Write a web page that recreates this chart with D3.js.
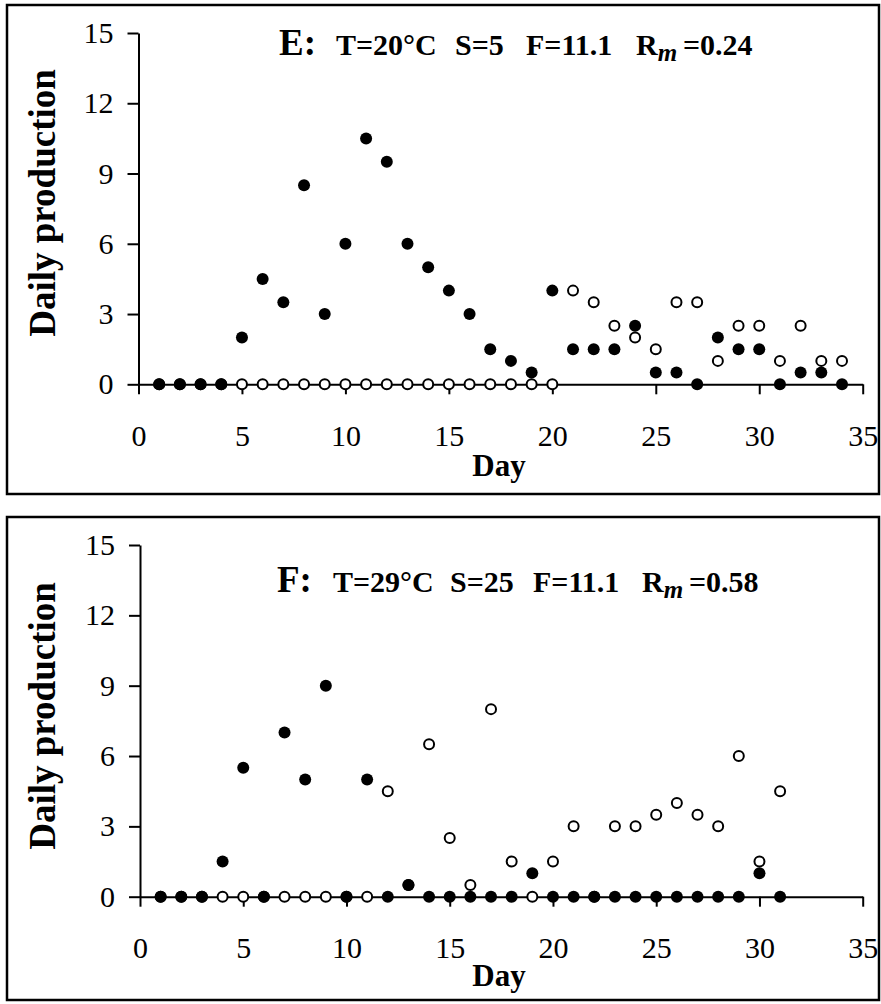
<!DOCTYPE html>
<html>
<head>
<meta charset="utf-8">
<script src="https://cdn.jsdelivr.net/npm/d3@7"></script>
<style>
  body { margin: 0; background: #fff; }
  svg text { font-family: 'Liberation Serif', 'DejaVu Serif', serif; fill: #000; }
</style>
</head>
<body>
<svg id="viz"></svg>
<script>
// Panel E: days 1-34
const daysE = d3.range(1, 35);
const eFilled = [0, 0, 0, 0, 2, 4.5, 3.5, 8.5, 3, 6, 10.5, 9.5, 6, 5, 4, 3, 1.5, 1, 0.5, 4,
                 1.5, 1.5, 1.5, 2.5, 0.5, 0.5, 0, 2, 1.5, 1.5, 0, 0.5, 0.5, 0];
const eOpen = [0, 0, 0, 0, 0, 0, 0, 0, 0, 0, 0, 0, 0, 0, 0, 0, 0, 0, 0, 0,
               4, 3.5, 2.5, 2, 1.5, 3.5, 3.5, 1, 2.5, 2.5, 1, 2.5, 1, 1];

// Panel F: days 1-31
const daysF = d3.range(1, 32);
const fFilled = [0, 0, 0, 1.5, 5.5, 0, 7, 5, 9, 0, 5, 0, 0.5, 0, 0, 0, 0, 0, 1, 0,
                 0, 0, 0, 0, 0, 0, 0, 0, 0, 1, 0];
const fOpen = [0, 0, 0, 0, 0, 0, 0, 0, 0, 0, 0, 4.5, 0.5, 6.5, 2.5, 0.5, 8, 1.5, 0, 1.5,
               3, 0, 3, 3, 3.5, 4, 3.5, 3, 6, 1.5, 4.5];

// title pieces
const eTitle = ["E:", "T=20\u00B0C", "S=5", "F=11.1", "R", "=0.24"];
const fTitle = ["F:", "T=29\u00B0C", "S=25", "F=11.1", "R", "=0.58"];

const xTicks = [0, 5, 10, 15, 20, 25, 30, 35];
const yTicks = [0, 3, 6, 9, 12, 15];

const width = 881;
const height = 1004;
const serif = "'Liberation Serif', 'DejaVu Serif', serif";

const svg = d3.select("svg#viz")
	.attr("width", width)
	.attr("height", height);

let translate = function(x, y) {
	return 'translate(' + x + ',' + y + ')';
}

// layout for the two boxes
const panels = [
	{
		title: eTitle, titleXs: [279, 336, 455, 526, 636, 683],
		days: daysE, filled: eFilled, open: eOpen,
		box: [7, 5, 879, 494],
		x0: 138.5, x1: 862.7, y0: 384.3, y1: 33,
		titleY: 55, labelY: 203, dayY: 476
	},
	{
		title: fTitle, titleXs: [277, 333, 450, 533, 642, 689],
		days: daysF, filled: fFilled, open: fOpen,
		box: [7, 517, 879, 1000],
		x0: 140, x1: 862.7, y0: 896.7, y1: 545,
		titleY: 592, labelY: 716, dayY: 986
	}
];

panels.forEach(drawPanel);

function drawPanel(p) {
	const g = svg.append("g").attr("font-family", serif);

	// outer frame
	g.append("rect")
		.attr("x", p.box[0]).attr("y", p.box[1])
		.attr("width", p.box[2] - p.box[0]).attr("height", p.box[3] - p.box[1])
		.attr("fill", "none").attr("stroke", "#000").attr("stroke-width", 2.5);

	const x = d3.scaleLinear().domain([0, 35]).range([p.x0, p.x1]);
	const y = d3.scaleLinear().domain([0, 15]).range([p.y0, p.y1]);

	// axes
	const xAxis = g.append("g")
		.attr("transform", translate(0, p.y0))
		.call(d3.axisBottom(x).tickValues(xTicks).tickSize(10).tickSizeOuter(0).tickPadding(30));
	const yAxis = g.append("g")
		.attr("transform", translate(p.x0, 0))
		.call(d3.axisLeft(y).tickValues(yTicks).tickSize(11).tickSizeOuter(0).tickPadding(14));

	[xAxis, yAxis].forEach(a => {
		a.attr("font-family", serif).attr("font-size", 30);
		a.selectAll("path, line").attr("stroke", "#000").attr("stroke-width", 2);
		a.selectAll("text").attr("fill", "#000");
	});

	// open markers
	g.append("g").selectAll("circle")
		.data(p.days.map((d, i) => ({day: d, v: p.open[i]})))
		.join("circle")
		.attr("cx", d => x(d.day))
		.attr("cy", d => y(d.v))
		.attr("r", 5)
		.attr("fill", "#fff")
		.attr("stroke", "#000")
		.attr("stroke-width", 2);

	// filled markers on top
	g.append("g").selectAll("circle")
		.data(p.days.map((d, i) => ({day: d, v: p.filled[i]})))
		.join("circle")
		.attr("cx", d => x(d.day))
		.attr("cy", d => y(d.v))
		.attr("r", 6)
		.attr("fill", "#000");

	// title, each piece placed on its own
	const t = g.append("text")
		.attr("y", p.titleY)
		.attr("font-weight", "bold")
		.attr("font-size", 30);
	t.append("tspan").attr("x", p.titleXs[0]).attr("font-size", 37).text(p.title[0]);
	for (let i = 1; i <= 4; i++) {
		t.append("tspan").attr("x", p.titleXs[i]).text(p.title[i]);
	}
	t.append("tspan").attr("font-size", 25).attr("font-style", "italic").attr("dy", 6).text("m");
	t.append("tspan").attr("x", p.titleXs[5]).attr("dy", -6).text(p.title[5]);

	// axis titles
	g.append("text")
		.attr("transform", translate(55, p.labelY) + " rotate(-90)")
		.attr("text-anchor", "middle")
		.attr("font-weight", "bold")
		.attr("font-size", 37)
		.text("Daily production");

	g.append("text")
		.attr("x", 499).attr("y", p.dayY)
		.attr("text-anchor", "middle")
		.attr("font-weight", "bold")
		.attr("font-size", 31)
		.text("Day");
}
</script>
</body>
</html>
